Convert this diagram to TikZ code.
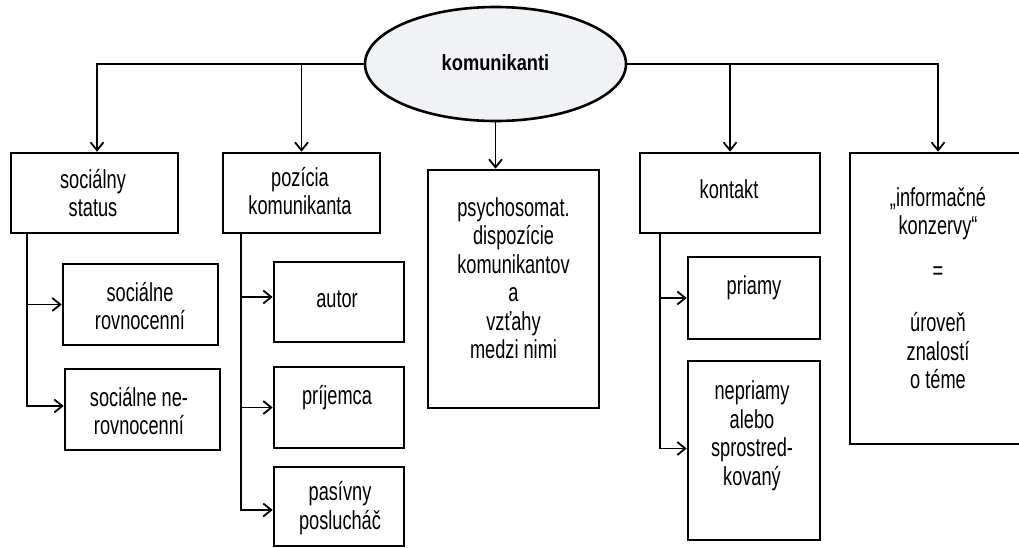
\documentclass[tikz,border=0pt]{standalone}
\usepackage{fontspec}
\setmainfont{Liberation Sans}
\newfontfamily\narrowfont[FakeStretch=0.70]{Liberation Sans}
\newfontfamily\titlefont[FakeStretch=0.83]{Liberation Sans}
\usetikzlibrary{shapes.geometric,arrows.meta}

\tikzset{
  box/.style={draw, line width=2.6pt, inner sep=0pt},
  txt/.style={align=center, inner sep=0pt, font=\narrowfont\fontsize{26}{28.5}\selectfont},
  conn/.style={line width=1.8pt},
  arr/.style={conn, -{Straight Barb[length=8pt,width=13pt,line width=1.8pt]}},
}

\begin{document}
\begin{tikzpicture}[x=1pt,y=-1pt]
\useasboundingbox (0,0) rectangle (1019,547);

% central ellipse
\node[ellipse, draw, line width=2.6pt, fill={rgb,255:red,241;green,242;blue,246},
      minimum width=261pt, minimum height=114pt, inner sep=0pt] (root) at (495.5,64) {};
\node[inner sep=0pt, font=\titlefont\bfseries\fontsize{22}{24}\selectfont] (roott) at (495.5,63) {komunikanti};

% first-level boxes
\node[box, minimum width=167pt, minimum height=80pt] (b1) at (94.5,193) {};
\node[box, minimum width=157pt, minimum height=80pt] (b2) at (301.5,193) {};
\node[box, minimum width=171pt, minimum height=238pt] (b3) at (513.5,289) {};
\node[box, minimum width=180pt, minimum height=80pt] (b4) at (730,193) {};
\node[box, minimum width=176pt, minimum height=291pt] (b5) at (938,298.5) {};

\node[txt] (t1) at (93,193) {sociálny\\status};
\node[txt] (t2) at (300,191) {pozícia\\komunikanta};
\node[txt] (t3) at (513.5,278) {psychosomat.\\dispozície\\komunikantov\\a\\vzťahy\\medzi nimi};
\node[txt] (t4) at (729,189) {kontakt};
\node[txt] (t5) at (938,288) {„informačné\\konzervy“\\[16.5pt]=\\[23.5pt]úroveň\\znalostí\\o téme};

% second-level boxes
\node[box, minimum width=155pt, minimum height=81pt] (c1) at (140.5,304.5) {};
\node[box, minimum width=155pt, minimum height=81pt] (c2) at (142.5,409.5) {};
\node[box, minimum width=130pt, minimum height=80pt] (d1) at (339,302) {};
\node[box, minimum width=130pt, minimum height=81pt] (d2) at (339,407.5) {};
\node[box, minimum width=130pt, minimum height=79pt] (d3) at (339,506.5) {};
\node[box, minimum width=132pt, minimum height=82pt] (e1) at (754,298) {};
\node[box, minimum width=132pt, minimum height=179pt] (e2) at (754,450.5) {};

\node[txt] (u1) at (140,306) {sociálne\\rovnocenní};
\node[txt] (u2) at (139,411) {sociálne ne-\\rovnocenní};
\node[txt] (v1) at (337,299) {autor};
\node[txt] (v2) at (337,398) {príjemca};
\node[txt] (v3) at (340,508) {pasívny\\poslucháč};
\node[txt] (w1) at (754,288) {priamy};
\node[txt] (w2) at (752,436) {nepriamy\\alebo\\sprostred-\\kovaný};

% connectors from the ellipse
\draw[arr] (root.west) -| ([xshift=2.5pt]b1.north);
\draw[arr] (root.west -| b2.north) -- (b2.north);
\draw[arr] (root.south) -- (root.south |- b3.north);
\draw[arr] (root.east -| b4.north) -- (b4.north);
\draw[arr] (root.east) -| (b5.north);

% branches below the first-level boxes
\coordinate (s1) at ([xshift=17pt]b1.south west);
\draw[arr] (s1) |- (c1.west);
\draw[arr] (s1) |- ([yshift=3.5pt]c2.west);

\coordinate (s2) at ([xshift=19pt]b2.south west);
\draw[arr] (s2) |- ([yshift=5pt]d1.west);
\draw[arr] (s2) |- (d2.west);
\draw[arr] (s2) |- ([yshift=-3.5pt]d3.west);

\coordinate (s4) at ([xshift=21pt]b4.south west);
\draw[arr] (s4) |- (e1.west);
\draw[arr] (s4) |- ([yshift=2pt]e2.west);
\end{tikzpicture}
\end{document}
